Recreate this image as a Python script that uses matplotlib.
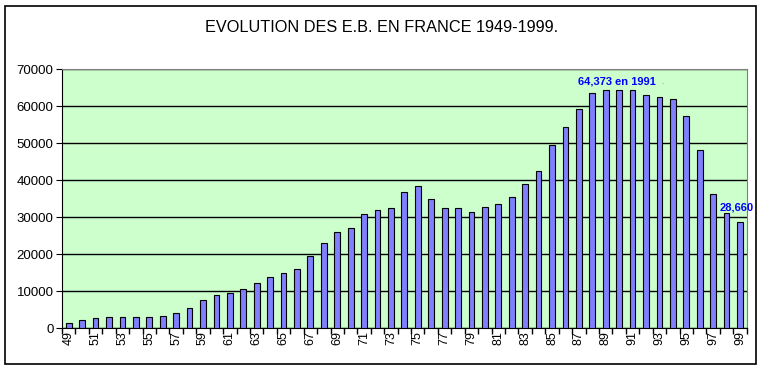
import matplotlib
matplotlib.use('Agg')
import matplotlib.pyplot as plt
from matplotlib.patches import Rectangle
import numpy as np

plt.rcParams['font.family'] = ['Liberation Sans', 'DejaVu Sans']

years = list(range(1949, 2000))
values = [1430, 2160, 2790, 3050, 3050, 3050, 3050, 3330, 4140, 5490,
          7650, 9000, 9540, 10540, 12160, 13860, 14860, 16030, 19540, 22970,
          25950, 27030, 30810, 31890, 32430, 36760, 38380, 34860, 32430, 32430,
          31430, 32700, 33600, 35490, 39000, 42510, 49460, 54400, 59270, 63600,
          64400, 64400, 64373, 63050, 62510, 61970, 57300, 48190, 36300, 31160,
          28660]
tick_labels = [str(y)[2:] for y in years]
title = 'EVOLUTION DES E.B. EN FRANCE 1949-1999.'
peak_label = '64,373 en 1991'
last_label = '28,660'

fig = plt.figure(figsize=(7.63, 3.70), dpi=100)
fig.patch.set_facecolor('white')
fig.patches.append(Rectangle((5 / 763, 1 - 364 / 370), 751 / 763, 358 / 370,
                             transform=fig.transFigure, fill=False,
                             edgecolor='black', linewidth=1.2))

ax = fig.add_axes([62 / 763, 1 - 328.3 / 370, 684.7 / 763, 259 / 370])
ax.set_facecolor('#ccffcc')

x = np.arange(len(years))
ax.bar(x, values, width=0.43, color='#8080ff', edgecolor='black',
       linewidth=0.8, zorder=3)

ax.set_xlim(-0.5, len(years) - 0.5)
ax.set_ylim(0, 70000)
ax.set_yticks(range(0, 70001, 10000))
ax.yaxis.grid(True, color='black', linewidth=1)
ax.set_axisbelow(True)

# tick marks between categories, labels every second year
ax.set_xticks(np.arange(-0.5, len(years), 1))
ax.set_xticklabels([])
ax.set_xticks(x[::2], minor=True)
ax.set_xticklabels(tick_labels[::2], minor=True, rotation=90, fontsize=9)
ax.tick_params(axis='x', which='major', length=4, direction='out', width=1)
ax.tick_params(axis='x', which='minor', length=0, pad=2)
ax.tick_params(axis='y', length=4, direction='out', labelsize=9.5, pad=2)

for side in ['top', 'right']:
    ax.spines[side].set_color('#808080')
for side in ['left', 'bottom']:
    ax.spines[side].set_color('black')

peak = ax.text(40.8, 66600, peak_label, color='blue', fontsize=8,
               fontweight='bold', ha='center', va='center')
ax.text(44.2, 66300, '.', color='#808080', fontsize=6, ha='center', va='center')
ax.text(48.5, 32600, last_label, color='blue', fontsize=8,
        fontweight='bold', ha='left', va='center')

fig.text(382 / 763, 1 - 27 / 370, title, fontsize=11.7, ha='center', va='center')

fig.savefig('out.png', dpi=100)
